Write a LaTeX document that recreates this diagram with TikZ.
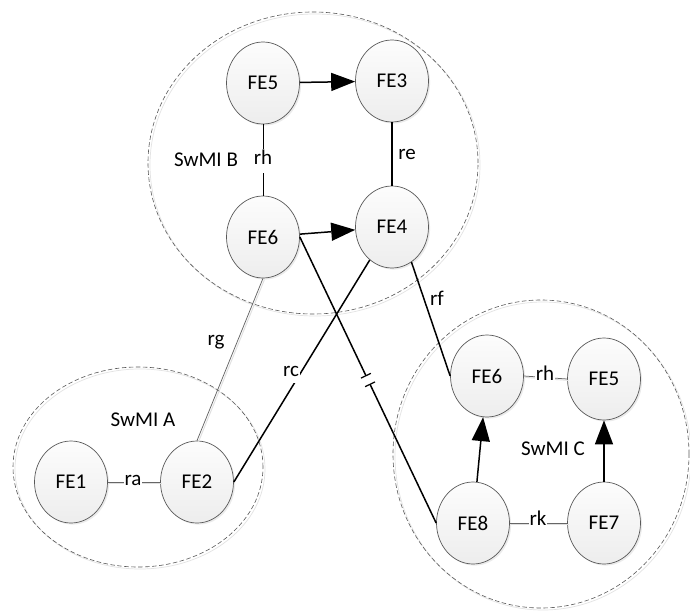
\documentclass[tikz,border=0pt]{standalone}
\usepackage{fontspec}
\setmainfont{Carlito}
\usetikzlibrary{shapes.geometric,arrows.meta,shadows,calc}
\begin{document}
\begin{tikzpicture}[x=1pt,y=-1pt,
  fe/.style={ellipse, draw=black!65, line width=0.7pt, top color=gray!2, bottom color=gray!14,
    minimum width=73pt, minimum height=82pt, inner sep=0pt, font=\fontsize{21}{25}\selectfont,
    drop shadow={shadow xshift=1.6pt, shadow yshift=-1.6pt, fill=gray!45, opacity=0.35}},
  group/.style={ellipse, draw=black!65, dash pattern=on 4.5pt off 2.5pt, line width=0.6pt, inner sep=0pt},
  groupshadow/.style={ellipse, draw=gray!22, line width=0.7pt, inner sep=0pt},
  lbl/.style={font=\fontsize{21}{25}\selectfont, inner sep=1pt, text height=10pt, text depth=4pt},
  gaplbl/.style={lbl, fill=white},
  thickline/.style={line width=1.5pt, black},
  midline/.style={line width=1.1pt, black},
  thinline/.style={line width=0.75pt, black!60},
  shadowline/.style={line width=0.9pt, gray!25, transform canvas={shift={(1.4pt,-1.4pt)}}},
  arr/.style={line width=1.5pt, black, -{Triangle[length=24pt,width=18pt]}}
]
\useasboundingbox (0,0) rectangle (690,610);
\fill[white] (0,0) rectangle (690,610);

% group outlines
\node[groupshadow, minimum width=330pt, minimum height=302pt] (gBs) at (315,165) {};
\node[groupshadow, minimum width=250pt, minimum height=200pt] (gAs) at (140,469) {};
\node[groupshadow, minimum width=296pt, minimum height=308pt] (gCs) at (543,456) {};
\node[group, minimum width=330pt, minimum height=302pt] (gB) at (313,163) {};
\node[group, minimum width=250pt, minimum height=200pt] (gA) at (138,467) {};
\node[group, minimum width=296pt, minimum height=308pt] (gC) at (541,454) {};

% group names
\node[lbl] (nB) at (206,163) {SwMI B};
\node[lbl] (nA) at (143,423) {SwMI A};
\node[lbl] (nC) at (553,452) {SwMI C};

% functional entities
\node[fe] (FE5B) at (263,83) {FE5};
\node[fe] (FE3) at (392,81) {FE3};
\node[fe] (FE6B) at (263,237) {FE6};
\node[fe] (FE4) at (392,227) {FE4};
\node[fe] (FE1) at (71,482) {FE1};
\node[fe] (FE2) at (197,482) {FE2};
\node[fe] (FE6C) at (487,376) {FE6};
\node[fe] (FE5C) at (604,379) {FE5};
\node[fe] (FE8) at (473,523) {FE8};
\node[fe] (FE7) at (604,523) {FE7};

% shadows of thin lines
\draw[shadowline] (FE1.east) -- (FE2.west);
\draw[shadowline] (FE2.north) -- (FE6B.south);
\draw[shadowline] (FE6C.east) -- (FE5C.west);
\draw[shadowline] (FE8.east) -- (FE7.west);

% thin reference points
\draw[thinline] (FE1.east) -- (FE2.west);
\draw[thinline] (FE2.north) -- (FE6B.south);
\draw[thinline] (FE6C.east) -- (FE5C.west);
\draw[thinline] (FE8.east) -- (FE7.west);
\draw[line width=0.8pt, black] (FE5B.south) -- (FE6B.north);
\draw[midline] (FE3.south) -- (FE4.north);

% thick reference points
\draw[thickline] (FE2.east) -- (FE4.-124);
\draw[thickline] (FE4.-61) -- (FE6C.west);
\coordinate (brkA) at ($(FE6B.east)!0.485!(FE8.west)$);
\coordinate (brkB) at ($(FE6B.east)!0.515!(FE8.west)$);
\draw[thickline] (FE6B.east) -- (brkA);
\draw[thickline] (brkB) -- (FE8.west);
\draw[line width=1.2pt] ($(brkA)!5.5pt!90:(FE8.west)$) -- ($(brkA)!5.5pt!-90:(FE8.west)$);
\draw[line width=1.2pt] ($(brkB)!5.5pt!90:(FE8.west)$) -- ($(brkB)!5.5pt!-90:(FE8.west)$);

% arrows
\draw[arr] (FE5B) -- (FE3);
\draw[arr] (FE6B) -- (FE4);
\draw[arr] (FE8) -- (FE6C);
\draw[arr] (FE7) -- (FE5C);

% labels
\node[gaplbl] (lra) at (133,482) {ra};
\node[gaplbl, inner ysep=5pt] (lrhB) at (263,161) {rh};
\node[lbl] (lre) at (407,156) {re};
\node[lbl] (lrg) at (216,342) {rg};
\node[gaplbl, inner ysep=3pt] (lrc) at (291,373) {rc};
\node[lbl] (lrf) at (437,302) {rf};
\node[gaplbl] (lrhC) at (545,377) {rh};
\node[gaplbl] (lrk) at (538,522) {rk};
\end{tikzpicture}
\end{document}
